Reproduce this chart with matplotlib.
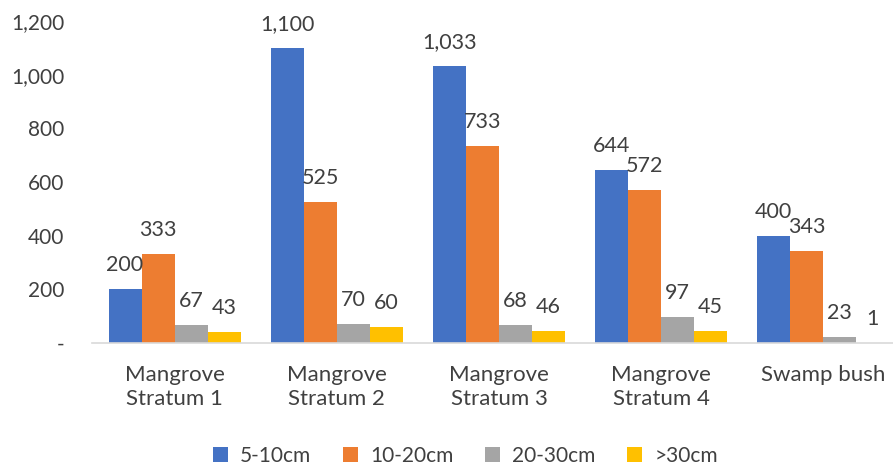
import numpy as np
import matplotlib
matplotlib.use("Agg")
import matplotlib.pyplot as plt
from matplotlib.ticker import FuncFormatter

categories = ["Mangrove\nStratum 1", "Mangrove\nStratum 2", "Mangrove\nStratum 3",
              "Mangrove\nStratum 4", "Swamp bush"]
series_names = ["5-10cm", "10-20cm", "20-30cm", ">30cm"]
v_5_10 = [200, 1100, 1033, 644, 400]
v_10_20 = [333, 525, 733, 572, 343]
v_20_30 = [67, 70, 68, 97, 23]
v_30 = [43, 60, 46, 45, 1]
colors = ["#4472C4", "#ED7D31", "#A5A5A5", "#FFC000"]

plt.rcParams["font.family"] = ["Lato", "DejaVu Sans"]
_TEXT = "#404040"
_FS = 15.5

fig = plt.figure(figsize=(8.93, 4.68), dpi=100)
ax = fig.add_axes([0.103, 0.267, 0.897, 0.688])

x = np.arange(len(categories))
w = 0.204
for i, (vals, col, name) in enumerate(zip([v_5_10, v_10_20, v_20_30, v_30], colors, series_names)):
    pos = x + (i - 1.5) * w
    ax.bar(pos, vals, width=w, color=col, label=name)
    for p, v in zip(pos, vals):
        ax.annotate(f"{v:,}", (p, v), xytext=(0, 10), textcoords="offset points",
                    ha="center", va="bottom", fontsize=_FS, color=_TEXT)

ax.set_ylim(0, 1200)
ax.set_xlim(-0.51, 4.43)
ax.set_yticks(range(0, 1201, 200))
ax.yaxis.set_major_formatter(FuncFormatter(lambda v, _: "-" if v == 0 else f"{int(v):,}"))
ax.set_xticks(x)
ax.set_xticklabels(categories, fontsize=16, color=_TEXT, linespacing=1.25)
ax.tick_params(axis="y", labelsize=15, labelcolor=_TEXT, length=0, pad=20)
ax.tick_params(axis="x", length=0, pad=16)
for s in ["top", "right", "left"]:
    ax.spines[s].set_visible(False)
ax.spines["bottom"].set_color("#D9D9D9")
ax.spines["bottom"].set_linewidth(1.2)

fig.legend(loc="lower center", ncol=4, frameon=False, fontsize=15,
           bbox_to_anchor=(0.521, -0.035), handlelength=0.72, handleheight=0.72,
           handletextpad=0.6, columnspacing=1.5, labelcolor=_TEXT)

fig.savefig("out.png", dpi=100)
